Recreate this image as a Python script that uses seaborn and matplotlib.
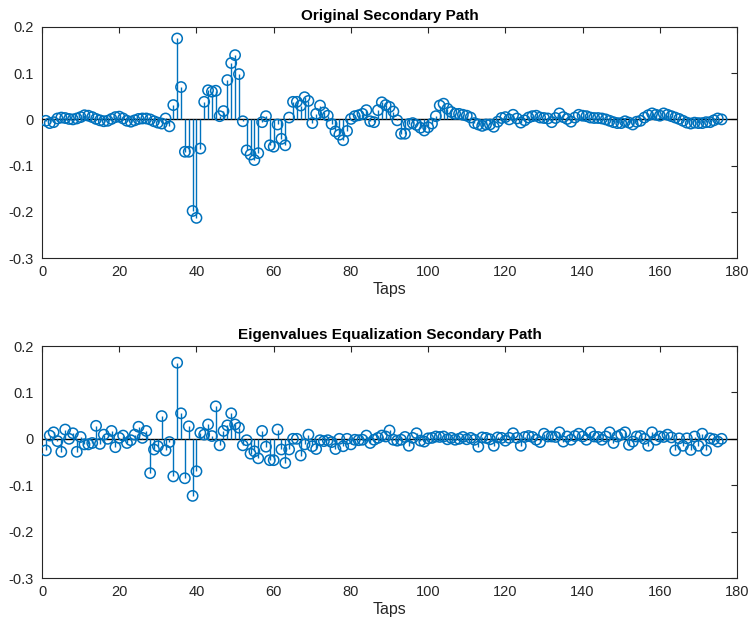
import numpy as np
import pandas as pd
import matplotlib
matplotlib.use("Agg")
import matplotlib.pyplot as plt
import seaborn as sns

taps = list(range(1, 177))

original_path = [
    -0.003, -0.008, -0.006, 0.002, 0.004, 0.003, 0.001, 0.000, 0.002, 0.005,
    0.009, 0.008, 0.005, 0.001, -0.002, -0.004, -0.003, 0.001, 0.005, 0.006,
    0.002, -0.003, -0.005, -0.002, 0.001, 0.002, 0.002, 0.000, -0.004, -0.007,
    -0.009, 0.002, -0.015, 0.031, 0.175, 0.070, -0.070, -0.070, -0.198, -0.213,
    -0.063, 0.038, 0.063, 0.060, 0.062, 0.007, 0.018, 0.085, 0.122, 0.139,
    0.098, -0.004, -0.067, -0.076, -0.088, -0.073, -0.006, 0.007, -0.056, -0.059,
    -0.011, -0.042, -0.056, 0.004, 0.038, 0.038, 0.030, 0.048, 0.040, -0.008,
    0.012, 0.030, 0.015, 0.008, -0.010, -0.026, -0.033, -0.045, -0.025, 0.001,
    0.007, 0.009, 0.012, 0.020, -0.004, -0.006, 0.020, 0.037, 0.031, 0.027,
    0.017, -0.002, -0.031, -0.031, -0.010, -0.008, -0.012, -0.018, -0.024, -0.017,
    -0.009, 0.007, 0.030, 0.034, 0.023, 0.016, 0.012, 0.012, 0.010, 0.008,
    0.004, -0.008, -0.011, -0.014, -0.011, -0.011, -0.016, -0.005, 0.003, 0.005,
    0.000, 0.010, 0.002, -0.007, -0.002, 0.004, 0.007, 0.008, 0.004, 0.003,
    0.002, -0.006, 0.003, 0.013, 0.005, 0.001, -0.005, 0.004, 0.010, 0.008,
    0.007, 0.004, 0.003, 0.003, 0.002, 0.000, -0.003, -0.006, -0.008, -0.008,
    -0.004, -0.007, -0.011, -0.005, -0.003, 0.004, 0.009, 0.013, 0.010, 0.008,
    0.013, 0.010, 0.007, 0.004, 0.001, -0.003, -0.007, -0.009, -0.007, -0.008,
    -0.008, -0.006, -0.006, -0.002, 0.002, 0.000,
]

equalized_path = [
    -0.025, 0.007, 0.014, -0.005, -0.028, 0.020, 0.000, 0.012, -0.028, 0.004,
    -0.012, -0.012, -0.009, 0.028, -0.011, 0.009, 0.000, 0.017, -0.018, 0.002,
    0.007, -0.009, -0.003, 0.009, 0.026, 0.002, 0.017, -0.074, -0.023, -0.016,
    0.049, -0.025, -0.007, -0.081, 0.164, 0.055, -0.085, 0.027, -0.123, -0.070,
    0.013, 0.009, 0.031, 0.006, 0.070, -0.014, 0.017, 0.029, 0.055, 0.031,
    0.024, -0.014, -0.003, -0.032, -0.027, -0.042, 0.017, -0.017, -0.046, -0.046,
    0.020, -0.023, -0.052, -0.023, 0.000, 0.000, -0.036, -0.012, 0.009, -0.016,
    -0.022, -0.003, -0.005, -0.003, -0.007, -0.022, 0.000, -0.016, 0.000, -0.012,
    -0.002, -0.003, -0.002, 0.007, -0.009, -0.002, 0.002, 0.007, 0.005, 0.018,
    -0.002, -0.004, -0.002, 0.004, -0.015, 0.002, 0.012, -0.004, -0.006, 0.001,
    0.002, 0.005, 0.004, 0.005, -0.001, 0.002, -0.002, 0.000, 0.004, -0.001,
    0.002, -0.002, -0.017, 0.003, 0.002, -0.001, -0.015, 0.003, 0.002, -0.004,
    0.002, 0.012, 0.002, -0.015, 0.004, 0.006, 0.004, -0.002, -0.007, 0.011,
    0.005, 0.005, 0.004, 0.014, -0.006, 0.005, -0.002, 0.006, 0.011, 0.005,
    -0.002, 0.014, 0.005, 0.004, -0.002, 0.005, 0.014, -0.009, 0.005, 0.009,
    0.014, -0.013, -0.006, 0.005, 0.006, 0.000, -0.015, 0.014, -0.002, 0.005,
    0.004, 0.009, 0.003, -0.025, 0.001, -0.015, 0.001, -0.024, 0.005, -0.015,
    0.011, -0.025, 0.001, -0.001, -0.006, 0.000,
]

titles = ["Original Secondary Path", "Eigenvalues Equalization Secondary Path"]
x_ticks = [0, 20, 40, 60, 80, 100, 120, 140, 160, 180]
y_ticks = [-0.3, -0.2, -0.1, 0, 0.1, 0.2]
y_tick_labels = ["-0.3", "-0.2", "-0.1", "0", "0.1", "0.2"]

sns.set_style("white")
plt.rcParams["font.family"] = ["Liberation Sans", "DejaVu Sans"]

blue = "#0072BD"
axc = "#262626"

fig = plt.figure(figsize=(7.53, 6.19), dpi=100)
ax1 = fig.add_axes([0.0558, 0.583, 0.923, 0.3735])
ax2 = fig.add_axes([0.0558, 0.0662, 0.923, 0.3748])

for ax, vals, title in zip([ax1, ax2], [original_path, equalized_path], titles):
    df = pd.DataFrame({"tap": taps, "value": vals})
    ax.axhline(0, color="black", lw=1.0, zorder=1)
    ax.vlines(df["tap"], 0, df["value"], color=blue, lw=1.0, zorder=2)
    sns.scatterplot(data=df, x="tap", y="value", ax=ax, marker="o", s=55,
                    facecolors="none", edgecolor=blue, linewidth=1.1, zorder=3)
    ax.set_xlim(0, 180)
    ax.set_ylim(-0.3, 0.2)
    ax.set_xticks(x_ticks)
    ax.set_xticklabels([str(t) for t in x_ticks])
    ax.set_yticks(y_ticks)
    ax.set_yticklabels(y_tick_labels)
    ax.tick_params(direction="in", length=4, width=0.8, colors=axc,
                   labelsize=10.5, top=True, right=True)
    ax.tick_params(axis="y", pad=6)
    ax.tick_params(axis="x", pad=5)
    for s in ax.spines.values():
        s.set_visible(True)
        s.set_color(axc)
        s.set_linewidth(0.8)
    ax.set_title(title, fontsize=11, fontweight="bold", color="black", pad=5)
    ax.set_xlabel("Taps", fontsize=11.5, color=axc, labelpad=2)
    ax.set_ylabel("")

fig.savefig("out.png", dpi=100)
